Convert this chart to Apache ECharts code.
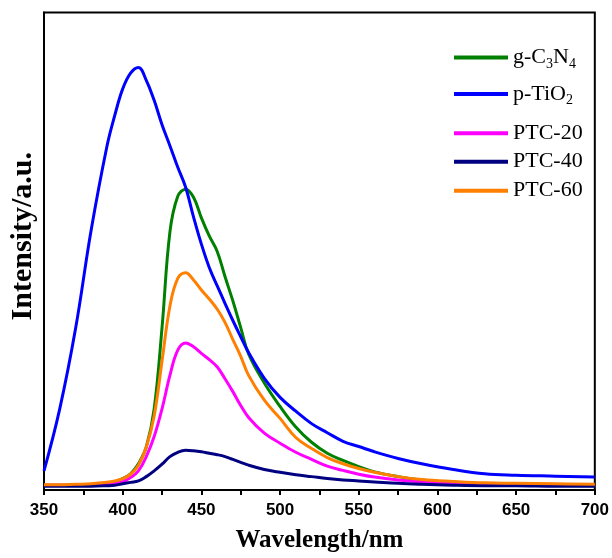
<!DOCTYPE html>
<html>
<head>
<meta charset="utf-8">
<script src="https://cdn.jsdelivr.net/npm/echarts@6/dist/echarts.min.js"></script>
<style>html,body{margin:0;padding:0;background:#fff;}#c{width:612px;height:558px;}</style>
</head>
<body>
<div id="c"></div>
<script>
const wavelength = [350,360,370,380,390,395,400,405,410,415,420,425,430,435,440,445,450,455,460,465,470,475,480,490,500,510,520,530,540,550,560,575,590,610,630,650,675,700];
const gC3N4 = [1.0,1.0,1.0,1.0,1.3,1.7,2.4,3.4,5.5,9.0,17,34,54,61.5,63,61.3,57,53.2,50,44.7,39.6,34,28.5,22.4,17.5,13.2,10.0,7.7,6.2,4.9,3.8,2.8,2.1,1.6,1.3,1.1,1.0,0.9];
const pTiO2 = [4.0,17,33.7,54.5,72,78.5,84,87.3,88.5,85.8,81.6,76.5,72.1,67.6,63.4,57.2,51.5,46.6,42.8,39.1,35.5,32.1,28.8,23.4,19.4,16.5,13.9,12.0,10.2,9.1,8.0,6.6,5.5,4.3,3.4,3.1,2.9,2.7];
const PTC20 = [1.0,1.0,1.0,1.0,1.1,1.3,1.7,2.6,4.0,7.0,11.2,17,24,29.3,30.8,30,28.6,27.3,25.8,23.3,20.6,17.7,15.2,11.9,9.8,7.9,6.4,5.0,4.1,3.3,2.7,2.1,1.7,1.4,1.2,1.1,1.0,1.0];
const PTC40 = [0.8,0.8,0.8,0.8,0.9,1.0,1.3,1.6,1.9,2.8,4.0,5.4,7.0,7.9,8.3,8.2,8.0,7.7,7.4,7.0,6.4,5.8,5.2,4.3,3.7,3.2,2.8,2.4,2.1,1.9,1.7,1.4,1.2,1.0,0.9,0.9,0.8,0.8];
const PTC60 = [1.1,1.1,1.2,1.3,1.6,1.9,2.4,3.3,5.2,9.0,15.5,27,38.5,44.3,45.5,44,41.9,40,37.9,35.1,31.5,28,24,18.8,15.0,11.0,8.7,6.8,5.5,4.5,3.7,2.8,2.2,1.8,1.5,1.4,1.3,1.2];
const seriesNames = ['g-C3N4','p-TiO2','PTC-20','PTC-40','PTC-60'];
const seriesData = [gC3N4, pTiO2, PTC20, PTC40, PTC60];
const colors = ['#008000','#0000ff','#ff00ff','#000080','#ff7f00'];
const xTicks = [350,400,450,500,550,600,650,700];

const chart = echarts.init(document.getElementById('c'), null, {renderer:'canvas'});
const legendTops = [46.5, 83, 122.3, 150.7, 179.7];
const serif = 'Liberation Serif';
const legends = seriesNames.map((n,i)=>({
  data:[n], left:454, top:legendTops[i], orient:'vertical', padding:0,
  icon:'rect', itemWidth:54, itemHeight:4, itemGap:0,
  selectedMode:false,
  formatter: name => name==='g-C3N4' ? '{n|g-C}{s|3}{n|N}{s|4}' : (name==='p-TiO2' ? '{n|p-TiO}{s|2}' : '{n|'+name+'}'),
  textStyle:{fontFamily:serif, fontSize:22, color:'#000',
    rich:{ n:{fontFamily:serif, fontSize:22, color:'#000', lineHeight:22},
           s:{fontFamily:serif, fontSize:14, color:'#000', padding:[13,0,0,0]} } }
}));
chart.setOption({
  animation:false,
  backgroundColor:'#fff',
  legend: legends,
  grid:{left:42.5, right:13, top:12.5, bottom:60, show:true, borderColor:'#000', borderWidth:2},
  xAxis:{type:'value', min:350, max:700, interval:50,
    name:'Wavelength/nm', nameLocation:'middle', nameGap:38,
    nameTextStyle:{fontFamily:serif, fontWeight:'bold', fontSize:25, color:'#000'},
    axisLine:{lineStyle:{color:'#000', width:2}},
    axisTick:{inside:false, length:5, lineStyle:{color:'#000', width:2}},
    minorTick:{show:true, splitNumber:2, length:5, lineStyle:{color:'#000', width:2}},
    axisLabel:{fontFamily:'Liberation Sans', fontWeight:'bold', fontSize:17, color:'#000', margin:12,
      customValues: xTicks},
    splitLine:{show:false}},
  yAxis:{type:'value', min:0, max:100,
    name:'Intensity/a.u.', nameLocation:'middle', nameGap:6,
    nameTextStyle:{fontFamily:serif, fontWeight:'bold', fontSize:30, color:'#000', padding:[0,0,0,30]},
    axisLine:{show:true, lineStyle:{color:'#000', width:2}},
    axisTick:{show:false}, axisLabel:{show:false}, splitLine:{show:false}},
  series: seriesNames.map((n,i)=>({
    name:n, type:'line', smooth:0.4, symbol:'none',
    data: wavelength.map((w,j)=>[w, seriesData[i][j]]),
    lineStyle:{color:colors[i], width:3}, itemStyle:{color:colors[i]}, z:2+i
  }))
});
</script>
</body>
</html>
